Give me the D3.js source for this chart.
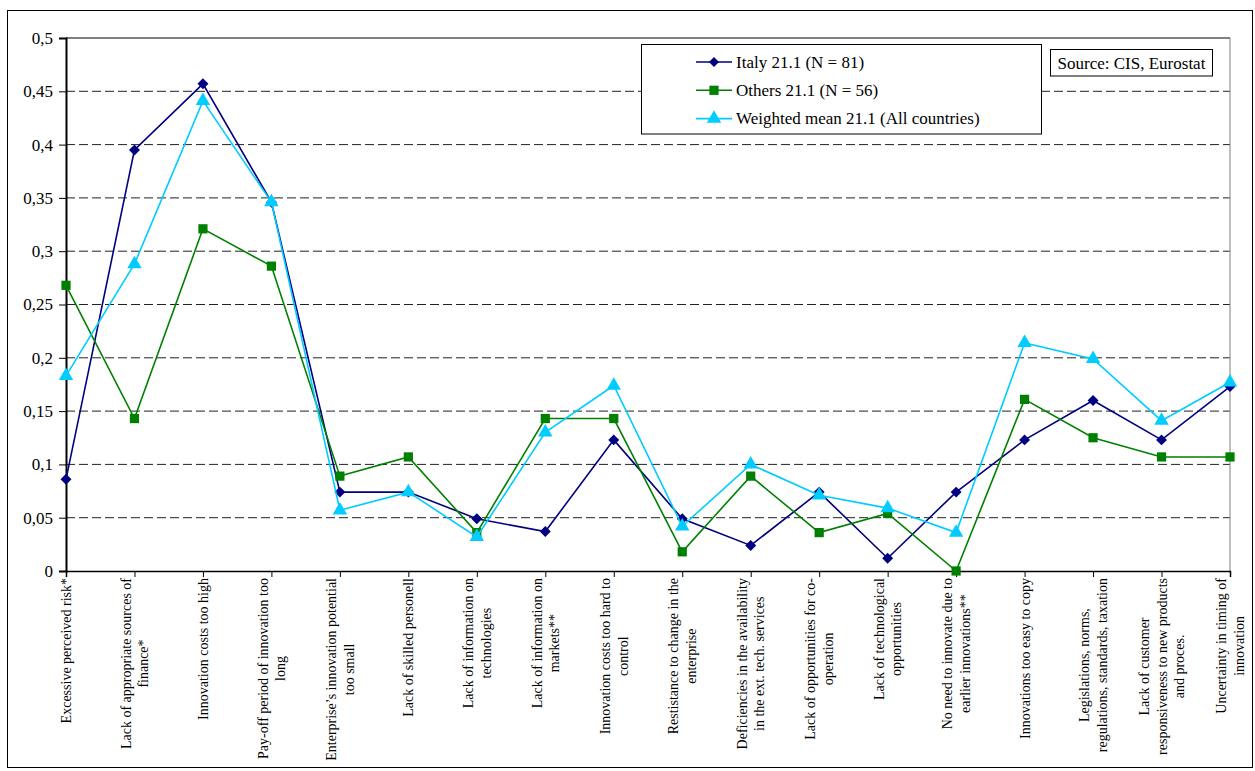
<!DOCTYPE html>
<html><head><meta charset="utf-8">
<script src="https://cdn.jsdelivr.net/npm/d3@7"></script>
<style>body{margin:0;background:#fff}svg{display:block}text{font-family:"Liberation Serif","Times New Roman",serif;fill:#000}</style>
</head><body>
<script>
const categories = [
  ["Excessive perceived risk*"],
  ["Lack of appropriate sources of", "finance*"],
  ["Innovation costs too high"],
  ["Pay-off period of innovation too", "long"],
  ["Enterprise\u2019s innovation potential", "too small"],
  ["Lack of skilled personell"],
  ["Lack of information on", "technologies"],
  ["Lack of information on", "markets**"],
  ["Innovation costs too hard to", "control"],
  ["Restistance to change in the", "enterprise"],
  ["Deficiencies in the availability", "in the ext. tech. services"],
  ["Lack of opportunities for co-", "operation"],
  ["Lack of technological", "opportunities"],
  ["No need to innovate due to", "earlier innovations**"],
  ["Innovations too easy to copy"],
  ["Legislations, norms,", "regulations, standards, taxation"],
  ["Lack of customer", "responsiveness to new products", "and proces."],
  ["Uncertainty in timing of", "innovation"]
];
const italy = [0.086,0.395,0.457,0.346,0.074,0.074,0.049,0.037,0.123,0.049,0.024,0.074,0.012,0.074,0.123,0.160,0.123,0.173];
const others = [0.268,0.143,0.321,0.286,0.089,0.107,0.036,0.143,0.143,0.018,0.089,0.036,0.054,0.0,0.161,0.125,0.107,0.107];
const weighted = [0.183,0.288,0.441,0.346,0.057,0.074,0.032,0.130,0.174,0.042,0.100,0.071,0.059,0.036,0.214,0.199,0.141,0.177];
const yTicks = [0,0.05,0.1,0.15,0.2,0.25,0.3,0.35,0.4,0.45,0.5];
const seriesNames = ["Italy 21.1 (N = 81)","Others 21.1 (N = 56)","Weighted mean 21.1 (All countries)"];
const sourceText = "Source: CIS, Eurostat";

const W=1255,H=771;
const svg=d3.select("body").append("svg").attr("width",W).attr("height",H);
svg.append("rect").attr("x",7.5).attr("y",10.5).attr("width",1245).attr("height",757).attr("fill","#fff").attr("stroke","#000").attr("stroke-width",1);

const pL=66,pR=1230,pT=38,pB=571;
const x=d3.scalePoint().domain(d3.range(categories.length)).range([pL,pR]);
const y=d3.scaleLinear().domain([0,0.5]).range([pB,pT]);
const fmt=v=>String(+v.toFixed(2)).replace(".",",");

// gridlines
svg.append("g").selectAll("line").data(yTicks.filter(t=>t>0&&t<0.5)).join("line")
  .attr("x1",pL).attr("x2",pR).attr("y1",d=>y(d)).attr("y2",d=>y(d))
  .attr("stroke","#222").attr("stroke-width",1).attr("stroke-dasharray","9,4");
svg.append("line").attr("x1",pL).attr("x2",pR).attr("y1",y(0.5)).attr("y2",y(0.5)).attr("stroke","#000").attr("stroke-width",1);
svg.append("line").attr("x1",pR).attr("x2",pR).attr("y1",y(0.5)).attr("y2",y(0)).attr("stroke","#808080").attr("stroke-width",1);

// y axis
const ya=svg.append("g").attr("transform",`translate(${pL},0)`)
  .call(d3.axisLeft(y).tickValues(yTicks).tickFormat(fmt).tickSize(7).tickPadding(6));
ya.select(".domain").attr("stroke","#000").attr("stroke-width",2);
ya.selectAll(".tick line").attr("stroke","#000");
ya.selectAll(".tick text").attr("font-family","Liberation Serif, serif").attr("font-size",17).attr("fill","#000");

// x axis
const xa=svg.append("g").attr("transform",`translate(0,${pB})`)
  .call(d3.axisBottom(x).tickSize(6).tickFormat(""));
xa.select(".domain").attr("stroke","#000").attr("stroke-width",1.5);
xa.selectAll(".tick line").attr("stroke","#000");

// x labels
const lh=17.5;
const lbl=svg.append("g").attr("font-size",14);
categories.forEach((lines,i)=>{
  const n=lines.length;
  const tmp=lbl.append("g");
  const texts=lines.map((s,j)=>tmp.append("text").text(s).attr("text-anchor","middle"));
  const maxw=d3.max(texts,t=>t.node().getComputedTextLength());
  const cy=pB+7+maxw/2;
  texts.forEach((t,j)=>{
    const cx=x(i)+(j-(n-1)/2)*lh+5;
    t.attr("transform",`translate(${cx},${cy}) rotate(-90)`);
  });
});

// series
const colors=["#000080","#008000","#00CCFF"];
const data=[italy,others,weighted];
const shapes=[d3.symbolSquare,d3.symbolSquare,d3.symbolTriangle];
const sizes=[60,85,90];
const rot=[" rotate(45)","",""];
const line=d3.line().x((d,i)=>x(i)).y(d=>y(d));
data.forEach((s,k)=>{
  const g=svg.append("g");
  g.append("path").datum(s).attr("d",line).attr("fill","none").attr("stroke",colors[k]).attr("stroke-width",1.6);
  g.selectAll("path.m").data(s).join("path").attr("class","m")
    .attr("transform",(d,i)=>`translate(${x(i)},${y(d)})${rot[k]}`)
    .attr("d",d3.symbol().type(shapes[k]).size(sizes[k])).attr("fill",colors[k]);
});

// legend
const lg=svg.append("g");
lg.append("rect").attr("x",641.5).attr("y",44.5).attr("width",400).attr("height",89.5).attr("fill","#fff").attr("stroke","#000").attr("stroke-width",1);
seriesNames.forEach((nm,k)=>{
  const ly=62+k*28.3;
  lg.append("line").attr("x1",696).attr("x2",732).attr("y1",ly).attr("y2",ly).attr("stroke",colors[k]).attr("stroke-width",1.6);
  lg.append("path").attr("transform",`translate(714,${ly})${rot[k]}`)
    .attr("d",d3.symbol().type(shapes[k]).size(k===0?50:sizes[k])).attr("fill",colors[k]);
  lg.append("text").attr("x",736).attr("y",ly+5.5).attr("font-size",17).text(nm);
});

// source box
svg.append("rect").attr("x",1050.5).attr("y",49.5).attr("width",162).attr("height",26.5).attr("fill","#fff").attr("stroke","#000").attr("stroke-width",1);
svg.append("text").attr("x",1131.5).attr("y",68.5).attr("text-anchor","middle").attr("font-size",17).text(sourceText);
</script>
</body></html>
